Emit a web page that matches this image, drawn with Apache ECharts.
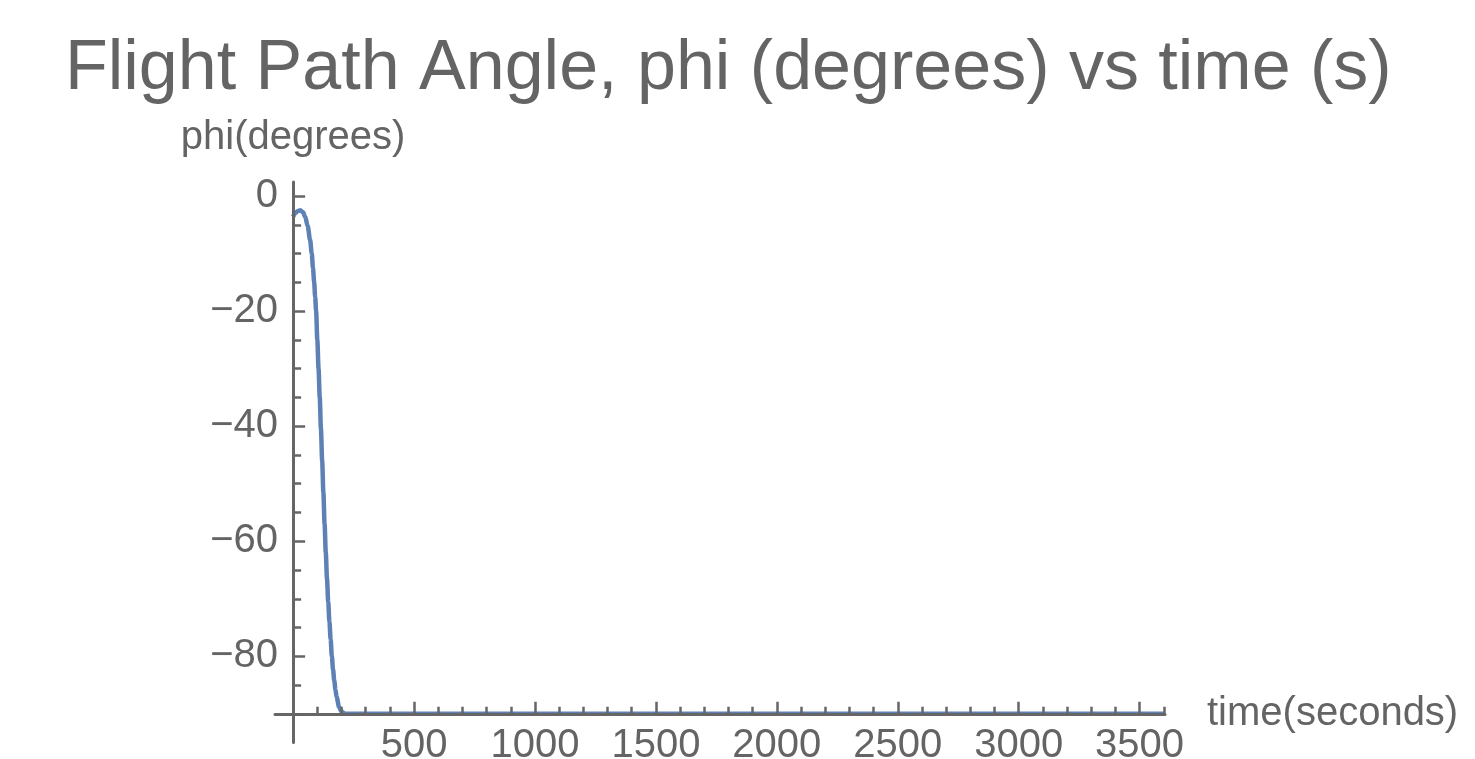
<!DOCTYPE html>
<html>
<head>
<meta charset="utf-8">
<script src="https://cdn.jsdelivr.net/npm/echarts@6/dist/echarts.min.js"></script>
<style>
  html, body { margin: 0; padding: 0; background: #ffffff; }
  #chart { width: 1475px; height: 759px; }
</style>
</head>
<body>
<div id="chart"></div>
<script>
// Text
const titleText = 'Flight Path Angle, phi (degrees) vs time (s)';
const xAxisName = 'time(seconds)';
const yAxisName = 'phi(degrees)';

// Flight path angle history
const timeSeconds = [0, 10, 20, 30, 40, 50, 60, 70, 77, 82, 87, 91, 95, 100, 105, 110, 115, 120, 125, 130, 135, 140, 145, 150, 155, 160, 165, 170, 175, 180, 190, 200, 215, 3600];
const phiDegrees = [-3.6, -2.9, -2.6, -2.5, -2.8, -3.6, -5.2, -7.6, -10, -12.5, -15, -17.5, -20, -25, -30, -35, -40.5, -46, -51.5, -57, -62, -66.5, -70.5, -74, -77, -80, -82.3, -84.2, -85.8, -87.1, -88.8, -89.6, -90, -90];

// Tick labels
const xTickValues = [500, 1000, 1500, 2000, 2500, 3000, 3500];
const yTickValues = [-80, -60, -40, -20, 0];

// Plot ranges (axes cross at t = 0 and phi = -90)
const xRange = [-75, 3605];
const yRange = [-95, 2.43];
const xAxisAt = -90;

const grid = { left: 275, right: 310, top: 182, bottom: 16.4, outerBoundsMode: 'none', containLabel: false };
const plotHeight = 759 - grid.top - grid.bottom;
const pxPerDeg = plotHeight / (yRange[1] - yRange[0]);

const textColor = '#646464';
const axisColor = '#666666';
const font = '"Liberation Sans", Arial, sans-serif';

const fmt = v => (v < 0 ? '\u2212' + Math.abs(v) : String(v));

const chart = echarts.init(document.getElementById('chart'), null, { renderer: 'canvas' });
chart.setOption({
  animation: false,
  backgroundColor: '#ffffff',
  title: {
    text: titleText,
    left: 60,
    top: 30,
    textStyle: { fontFamily: font, fontSize: 70, fontWeight: 'normal', color: textColor }
  },
  grid: grid,
  xAxis: {
    type: 'value',
    min: xRange[0],
    max: xRange[1],
    splitNumber: 7,
    z: 5,
    offset: -(xAxisAt - yRange[0]) * pxPerDeg,
    name: xAxisName,
    nameLocation: 'end',
    nameGap: 42,
    nameTextStyle: { fontFamily: font, fontSize: 40, color: textColor },
    axisLine: { onZero: false, lineStyle: { color: axisColor, width: 3 } },
    axisTick: { inside: true, length: 12, customValues: xTickValues, lineStyle: { color: axisColor, width: 2.5 } },
    minorTick: { show: true, splitNumber: 5, length: 7, lineStyle: { color: axisColor, width: 2.5 } },
    axisLabel: { customValues: xTickValues, formatter: fmt, margin: 12, fontFamily: font, fontSize: 40, color: textColor },
    splitLine: { show: false },
    minorSplitLine: { show: false }
  },
  yAxis: {
    type: 'value',
    min: yRange[0],
    max: yRange[1],
    splitNumber: 5,
    z: 5,
    name: yAxisName,
    nameLocation: 'end',
    nameGap: 24,
    nameTextStyle: { fontFamily: font, fontSize: 40, color: textColor },
    axisLine: { onZero: true, lineStyle: { color: axisColor, width: 3 } },
    axisTick: { inside: true, length: 12, customValues: yTickValues, lineStyle: { color: axisColor, width: 2.5 } },
    minorTick: { show: true, splitNumber: 4, length: 8, lineStyle: { color: axisColor, width: 2.5 } },
    axisLabel: { customValues: yTickValues, formatter: fmt, margin: -3, fontFamily: font, fontSize: 40, color: textColor },
    splitLine: { show: false },
    minorSplitLine: { show: false }
  },
  series: [{
    type: 'line',
    data: timeSeconds.map((t, i) => [t, phiDegrees[i]]),
    showSymbol: false,
    smooth: 0.3,
    smoothMonotone: 'x',
    lineStyle: { color: '#5E81B5', width: 4.5 },
    z: 2
  }]
});
</script>
</body>
</html>
